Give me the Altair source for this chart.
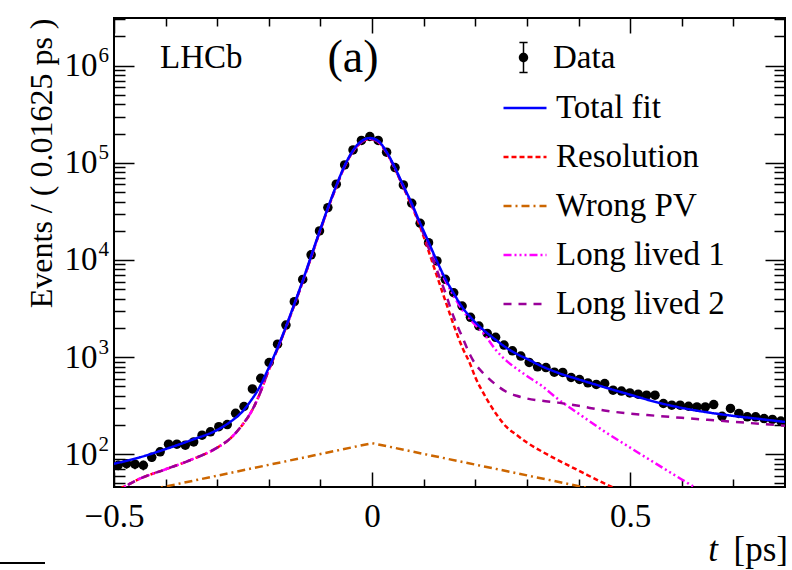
import altair as alt
import pandas as pd
import numpy as np

# ---------------- values ----------------
BIN_WIDTH = 0.01625
T_RANGE = [-0.5, 0.8]
Y_RANGE = [46, 3.1e6]

counts = [77, 80, 79, 77, 93, 106, 127, 127, 124, 134,
          157, 170, 192, 202, 264, 310, 470, 605, 880, 1360,
          2140, 3720, 6300, 11300, 19900, 34600, 60300, 95300, 136000, 170000,
          186700, 170000, 128800, 89500, 59300, 38400, 23900, 15070, 9770, 6320,
          4600, 3360, 2570, 2090, 1755, 1597, 1330, 1160, 1024, 881,
          794, 780, 700, 695, 617, 588, 543, 523, 535, 457,
          447, 428, 415, 406, 406, 333, 320, 320, 312, 307,
          307, 325, 246, 296, 263, 243, 243, 233, 228, 220]

curve_t = [-0.5, -0.482, -0.45, -0.4, -0.35, -0.3, -0.275, -0.25, -0.235, -0.22,
           -0.2, -0.183, -0.167, -0.15, -0.134, -0.118, -0.102, -0.086, -0.069, -0.053,
           -0.037, -0.02, -0.004, 0.012, 0.028, 0.044, 0.06, 0.077, 0.093, 0.109,
           0.125, 0.142, 0.158, 0.175, 0.19, 0.2, 0.216, 0.24, 0.26, 0.28,
           0.3, 0.33, 0.36, 0.4, 0.45, 0.5, 0.55, 0.6, 0.65, 0.7,
           0.75, 0.8]

total_fit = [80, 84, 93, 113, 140, 178, 215, 280, 355, 470,
             780, 1250, 2050, 3600, 6200, 11000, 19500, 34000, 59000, 94000,
             134000, 168000, 180000, 168000, 130000, 90000, 59000, 38000, 24000, 15500,
             9900, 6400, 4550, 3250, 2600, 2280, 1900, 1500, 1250, 1080,
             960, 800, 690, 590, 490, 410, 345, 300, 270, 248,
             231, 215]

resolution = [42, 46, 56, 70, 88, 117, 145, 205, 268, 390,
              740, 1220, 2000, 3520, 6050, 10700, 19000, 33200, 57500, 92000,
              131000, 164000, 176000, 164000, 127000, 87500, 57000, 36000, 22000, 12600,
              7000, 3800, 2150, 1250, 850, 620, 423, 262, 192, 158,
              132, 106, 87, 68, 50, 38, 28, 21, 16, 12,
              9, 7]

long_lived_1 = [42, 46, 56, 70, 88, 117, 145, 205, 268, 390,
                745, 1230, 2020, 3550, 6100, 10800, 19200, 33500, 58000, 92500,
                132000, 165000, 177000, 165000, 128000, 88500, 58000, 37000, 23500, 15000,
                9500, 6100, 4300, 3050, 2450, 2150, 1750, 1180, 920, 760,
                640, 500, 370, 262, 172, 117, 80, 55, 38, 27,
                19, 14]

long_lived_2 = [42, 46, 56, 70, 88, 117, 145, 205, 268, 390,
                742, 1225, 2010, 3530, 6070, 10750, 19100, 33300, 57700, 92200,
                131500, 164500, 176500, 164500, 127500, 88000, 57500, 36500, 23000, 13500,
                8000, 4600, 2600, 1600, 1050, 850, 680, 520, 440, 400,
                375, 355, 340, 315, 282, 262, 249, 237, 226, 216,
                206, 197]

wrong_pv_t = [-0.5, 0.0, 0.8]
wrong_pv = [36, 130, 17]

fit_components = ["Total fit", "Resolution", "Wrong PV", "Long lived 1", "Long lived 2"]
colors = ["#0000ff", "#ff0000", "#cc6600", "#ff00ff", "#990099"]
dashes = [[1, 0], [5, 3], [8, 4, 2, 4], [8, 3, 2, 3, 2, 3, 2, 3], [8, 7]]
data_label = ["Data"]

x_major = [-0.5, 0.0, 0.5]
x_minor = [-0.4, -0.3, -0.2, -0.1, 0.1, 0.2, 0.3, 0.4, 0.6, 0.7]
y_major = [1e2, 1e3, 1e4, 1e5, 1e6]
y_minor = [50, 60, 70, 80, 90,
           200, 300, 400, 500, 600, 700, 800, 900,
           2000, 3000, 4000, 5000, 6000, 7000, 8000, 9000,
           20000, 30000, 40000, 50000, 60000, 70000, 80000, 90000,
           200000, 300000, 400000, 500000, 600000, 700000, 800000, 900000,
           2000000, 3000000]

y_title = "Events / ( 0.01625 ps )"
FONT = "Liberation Serif"

# ---------------- tables ----------------
t_centers = T_RANGE[0] + BIN_WIDTH * (np.arange(len(counts)) + 0.5)
df = pd.DataFrame({"t": t_centers, "n": counts})
err = np.sqrt(df["n"])
df["lo"] = df["n"] - err
df["hi"] = df["n"] + err
df["tl"] = df["t"] - BIN_WIDTH / 2
df["th"] = df["t"] + BIN_WIDTH / 2
df["comp"] = data_label[0]


def curve_df(name, ts, vals):
    return pd.DataFrame({"t": ts, "v": vals, "comp": name})


xs = alt.Scale(domain=T_RANGE, nice=False, zero=False)
ys = alt.Scale(type="log", domain=Y_RANGE, nice=False)

# legend glyph for "Data": dot with a capped vertical error bar (all filled shapes)
DATA_PATH = ("M-0.035,-0.7H0.035V0.7H-0.035Z"
             "M-0.19,-0.735H0.19V-0.665H-0.19Z"
             "M-0.19,0.665H0.19V0.735H-0.19Z"
             "M0.22,0A0.22,0.22,0,1,1,-0.22,0A0.22,0.22,0,1,1,0.22,0Z")

line_legend = alt.Legend(
    title=None, orient="none", legendX=388, legendY=67, direction="vertical",
    symbolType="stroke", symbolSize=1849, symbolStrokeWidth=2.5,
    labelFont=FONT, labelFontSize=33, labelColor="black", labelOffset=8,
    labelLimit=400, rowPadding=9, padding=0,
)
data_legend = alt.Legend(
    title=None, orient="none", legendX=388, legendY=18, direction="vertical",
    symbolSize=1849, symbolStrokeWidth=0, symbolFillColor="black",
    symbolStrokeColor="black", symbolOpacity=1,
    labelFont=FONT, labelFontSize=33, labelColor="black", labelOffset=8,
    labelLimit=400, padding=0,
)
color_enc = alt.Color("comp:N", scale=alt.Scale(domain=fit_components, range=colors), legend=line_legend)
dash_enc = alt.StrokeDash("comp:N", scale=alt.Scale(domain=fit_components, range=dashes), legend=line_legend)


def tick_axis(orient, values, size):
    return alt.Axis(orient=orient, values=values, tickSize=size, offset=-size, labels=False,
                    domain=False, grid=False, title=None, ticks=True, tickColor="black",
                    tickWidth=1.5)


x_label_axis = alt.Axis(
    orient="bottom", values=x_major,
    labelExpr="datum.value < 0 ? '\u2212' + format(-datum.value, '.1f') : (datum.value == 0 ? '0' : format(datum.value, '.1f'))",
    ticks=False, tickSize=0, domain=False, grid=False, labelFont=FONT, labelFontSize=33,
    labelColor="black", labelPadding=13, labelFlush=False, labelOverlap=False, title=None)

y_label_axis = alt.Axis(
    orient="left", values=y_major, labelExpr="'10'", ticks=False, tickSize=0, domain=False,
    grid=False, labelFont=FONT, labelFontSize=33, labelColor="black", labelPadding=17,
    labelBaseline="middle", labelFlush=False, labelOverlap=False,
    title=y_title, titleFont=FONT, titleFontSize=32, titleFontWeight="normal",
    titleColor="black", titleAnchor="end", titlePadding=6)

y_exp_axis = alt.Axis(
    orient="left", values=y_major, labelExpr="format(round(log(datum.value)/LN10), 'd')",
    ticks=False, tickSize=0, domain=False, grid=False, labelFont=FONT, labelFontSize=21,
    labelColor="black", labelAlign="left", labelBaseline="bottom", labelPadding=16,
    labelFlush=False, labelOverlap=False, title=None)

base = alt.Chart(df)

hbars = base.mark_rule(color="black", strokeWidth=1.5).encode(
    x=alt.X("tl:Q", scale=xs, axis=tick_axis("bottom", x_major, 15)),
    x2="th:Q",
    y=alt.Y("n:Q", scale=ys, axis=y_exp_axis),
)
vbars = base.mark_rule(color="black", strokeWidth=1.5).encode(
    x=alt.X("t:Q", scale=xs, axis=tick_axis("bottom", x_minor, 8)),
    y=alt.Y("lo:Q", scale=ys, axis=tick_axis("left", y_major, 20)),
    y2="hi:Q",
)
points = base.mark_circle(color="black", opacity=1, size=90).encode(
    x=alt.X("t:Q", scale=xs, axis=x_label_axis),
    y=alt.Y("n:Q", scale=ys, axis=y_label_axis),
)
# invisible carrier that only provides the "Data" legend entry
data_key = base.transform_filter("datum.n > 1e9").mark_point(
    filled=True, color="black", opacity=0).encode(
    x=alt.X("t:Q", scale=xs, axis=None),
    y=alt.Y("n:Q", scale=ys, axis=None),
    shape=alt.Shape("comp:N", scale=alt.Scale(domain=data_label, range=[DATA_PATH]),
                    legend=data_legend),
)


def line_layer(data, xaxis, yaxis, interp="monotone"):
    return alt.Chart(data).mark_line(strokeWidth=2.5, clip=True, interpolate=interp).encode(
        x=alt.X("t:Q", scale=xs, axis=xaxis),
        y=alt.Y("v:Q", scale=ys, axis=yaxis),
        color=color_enc,
        strokeDash=dash_enc,
    )


wpv_layer = line_layer(curve_df("Wrong PV", wrong_pv_t, wrong_pv),
                       tick_axis("top", x_major, 15), tick_axis("left", y_minor, 11), "linear")
res_layer = line_layer(curve_df("Resolution", curve_t, resolution),
                       tick_axis("top", x_minor, 8), tick_axis("right", y_major, 20))
ll1_layer = line_layer(curve_df("Long lived 1", curve_t, long_lived_1),
                       None, tick_axis("right", y_minor, 11))
ll2_layer = line_layer(curve_df("Long lived 2", curve_t, long_lived_2), None, None)
tot_layer = line_layer(curve_df("Total fit", curve_t, total_fit), None, None)


def text_layer(text, x, y, size, align="left", style="normal"):
    return alt.Chart(alt.Data(values=[{}])).mark_text(
        text=text, font=FONT, fontSize=size, align=align, baseline="middle",
        fontStyle=style, color="black").encode(x=alt.value(x), y=alt.value(y))


lhcb = text_layer("LHCb", 46, 40, 33)
panel = text_layer("(a)", 239, 40, 46, align="center")
x_unit = text_layer("[ps]", 674, 532, 35, align="right")
x_var = text_layer("t", 604, 532, 35, align="right", style="italic")
corner = alt.Chart(alt.Data(values=[{}])).mark_rule(color="black", strokeWidth=2, clip=False).encode(
    x=alt.value(-114), x2=alt.value(-69), y=alt.value(545))

chart = alt.layer(
    hbars, vbars, points, data_key, wpv_layer, res_layer, ll1_layer, ll2_layer, tot_layer,
    lhcb, panel, x_unit, x_var, corner,
).resolve_axis(
    x="independent", y="independent"
).properties(
    width=671, height=469,
    autosize=alt.AutoSizeParams(type="none"),
    padding={"left": 114, "top": 18, "right": 7, "bottom": 83},
    background="white",
).configure_view(stroke="black", strokeWidth=2)

chart.save("out.html", embed_options={"renderer": "svg", "actions": False})
